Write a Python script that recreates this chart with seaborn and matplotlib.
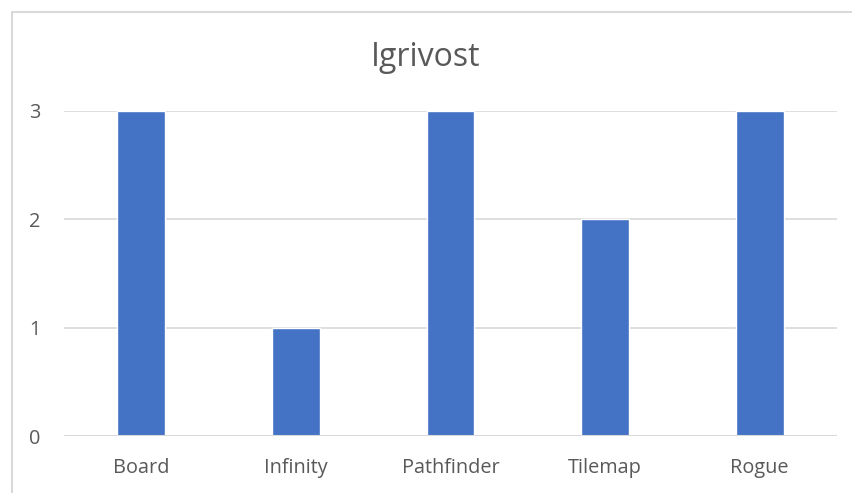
import pandas as pd
import matplotlib
matplotlib.use("Agg")
import matplotlib.pyplot as plt
import seaborn as sns
from matplotlib.patches import Rectangle

categories = ["Board", "Infinity", "Pathfinder", "Tilemap", "Rogue"]
values = [3, 1, 3, 2, 3]
y_ticks = [0, 1, 2, 3]
title = "Igrivost"

df = pd.DataFrame({"Game": categories, "Score": values})

sns.set_theme(style="white")
plt.rcParams["font.family"] = ["Open Sans", "DejaVu Sans"]

fig = plt.figure(figsize=(8.52, 4.93), dpi=100)
ax = fig.add_axes([64 / 852, 1 - 436 / 493, (837 - 64) / 852, (436 - 111) / 493])

sns.barplot(data=df, x="Game", y="Score", color="#4472C4", width=0.31,
            saturation=1, ax=ax, zorder=3)

ax.set_ylim(0, 3)
ax.set_yticks(y_ticks)
ax.set_xlim(-0.5, len(categories) - 0.5)
ax.grid(axis="y", color="#d9d9d9", linewidth=1.2, zorder=0)
ax.axhline(0, color="#d9d9d9", linewidth=1.5, zorder=4)
for s in ax.spines.values():
    s.set_visible(False)
ax.tick_params(axis="both", length=0, labelsize=14.3, colors="#595959")
ax.tick_params(axis="x", pad=16)
ax.tick_params(axis="y", pad=17)
ax.set_xlabel("")
ax.set_ylabel("")

fig.text(0.5, 1 - 58 / 493, title, ha="center", va="center",
         fontsize=23, color="#595959")

# chart frame (cut off at right/bottom like the reference)
fig.patches.append(Rectangle((12 / 852, -0.1), 1.2, 1 - 12 / 493 + 0.1,
                             transform=fig.transFigure, fill=False,
                             edgecolor="#d9d9d9", linewidth=1.5))

fig.savefig("out.png", dpi=100)
plt.close(fig)
